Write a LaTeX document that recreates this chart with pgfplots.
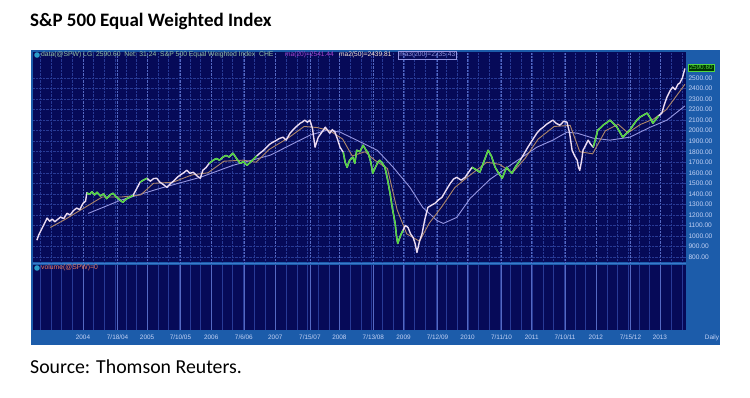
\documentclass[border=0pt]{standalone}
\usepackage{pgfplots}
\pgfplotsset{compat=1.18}
\usepackage{pgfplotstable}
\usepackage{fontspec}
\setmainfont{Carlito}
\newfontfamily\chartfont{Liberation Sans}
\definecolor{navy}{RGB}{6,10,88}
\definecolor{strip}{RGB}{28,92,170}
\definecolor{stripline}{RGB}{60,120,205}
\definecolor{gridc}{RGB}{40,58,150}
\definecolor{gridmaj}{RGB}{85,105,195}
\definecolor{pricew}{RGB}{236,220,242}
\definecolor{priceg}{RGB}{80,215,60}
\definecolor{ma50c}{RGB}{175,135,105}
\definecolor{ma200c}{RGB}{150,150,225}
\definecolor{lbl}{RGB}{195,210,245}
\definecolor{hdr}{RGB}{150,195,165}
\definecolor{hdrmag}{RGB}{170,70,210}
\definecolor{volc}{RGB}{235,125,100}

\pgfplotstableread{
x y g
2003.28 960 0
2003.31 1010 0
2003.35 1060 0
2003.40 1120 0
2003.44 1170 0
2003.48 1140 0
2003.52 1160 0
2003.56 1135 0
2003.60 1155 0
2003.65 1180 0
2003.70 1165 0
2003.75 1215 0
2003.80 1200 0
2003.85 1240 0
2003.90 1265 0
2003.95 1250 0
2004.00 1310 0
2004.04 1330 0
2004.06 1410 1
2004.10 1395 1
2004.14 1420 1
2004.18 1390 1
2004.22 1415 1
2004.27 1380 1
2004.32 1400 1
2004.37 1355 1
2004.42 1390 1
2004.47 1405 1
2004.52 1370 1
2004.57 1345 1
2004.62 1320 1
2004.67 1350 1
2004.72 1365 1
2004.78 1385 1
2004.83 1440 0
2004.89 1510 1
2004.94 1530 1
2005.00 1548 1
2005.05 1520 0
2005.10 1545 0
2005.15 1548 0
2005.20 1510 0
2005.25 1490 0
2005.31 1462 0
2005.36 1495 0
2005.41 1520 0
2005.47 1557 0
2005.52 1580 0
2005.57 1600 0
2005.62 1624 0
2005.67 1595 0
2005.72 1605 0
2005.78 1570 0
2005.83 1548 0
2005.87 1624 0
2005.92 1650 0
2005.97 1690 1
2006.03 1719 1
2006.08 1735 1
2006.13 1720 1
2006.18 1748 1
2006.23 1765 1
2006.28 1750 1
2006.34 1786 1
2006.39 1740 1
2006.45 1690 1
2006.50 1705 1
2006.56 1671 1
2006.61 1700 1
2006.66 1730 1
2006.71 1760 1
2006.76 1786 0
2006.81 1810 0
2006.86 1840 0
2006.91 1870 0
2006.96 1890 0
2007.01 1905 0
2007.06 1925 0
2007.12 1938 0
2007.17 1910 0
2007.23 1976 0
2007.28 2010 0
2007.33 2040 0
2007.39 2071 0
2007.43 2085 0
2007.46 2100 0
2007.50 2080 0
2007.54 2100 0
2007.58 2020 0
2007.62 1843 0
2007.65 1900 0
2007.67 1938 0
2007.72 1980 0
2007.78 2033 0
2007.82 2000 0
2007.85 1976 0
2007.89 2010 0
2007.93 1986 0
2007.97 1920 0
2008.01 1843 0
2008.06 1795 1
2008.09 1700 1
2008.12 1652 1
2008.16 1720 1
2008.21 1748 1
2008.24 1690 1
2008.27 1814 1
2008.32 1800 1
2008.37 1862 1
2008.41 1820 1
2008.45 1786 1
2008.49 1700 1
2008.52 1595 1
2008.56 1650 1
2008.60 1700 1
2008.63 1719 1
2008.67 1690 1
2008.71 1652 1
2008.75 1540 1
2008.79 1405 1
2008.83 1250 1
2008.87 1119 1
2008.89 1000 1
2008.91 929 1
2008.95 1000 1
2008.99 1052 1
2009.03 1100 0
2009.07 1081 0
2009.11 1020 0
2009.15 986 0
2009.18 930 0
2009.21 843 0
2009.25 950 0
2009.29 1024 0
2009.33 1150 0
2009.38 1271 0
2009.43 1290 0
2009.49 1310 0
2009.54 1340 0
2009.60 1367 0
2009.66 1430 0
2009.73 1500 0
2009.78 1540 0
2009.83 1557 0
2009.90 1530 0
2009.96 1557 0
2010.01 1600 0
2010.07 1652 1
2010.13 1630 1
2010.19 1605 1
2010.25 1700 1
2010.32 1814 1
2010.37 1760 1
2010.43 1652 1
2010.48 1600 1
2010.54 1548 1
2010.58 1610 1
2010.61 1652 1
2010.65 1620 1
2010.69 1595 1
2010.75 1660 1
2010.82 1719 1
2010.88 1780 0
2010.94 1843 0
2011.01 1910 0
2011.08 1976 0
2011.13 2010 0
2011.18 2033 0
2011.23 2060 0
2011.28 2080 0
2011.33 2100 0
2011.38 2070 0
2011.44 2052 0
2011.50 2090 0
2011.55 2081 0
2011.59 1980 0
2011.63 1814 0
2011.67 1760 0
2011.71 1719 0
2011.73 1650 0
2011.75 1624 0
2011.78 1720 0
2011.80 1814 0
2011.84 1860 0
2011.88 1910 0
2011.92 1870 0
2011.96 1843 1
2012.00 1930 1
2012.03 2005 1
2012.08 2030 1
2012.13 2060 1
2012.18 2080 1
2012.22 2100 1
2012.27 2070 1
2012.33 2033 1
2012.38 1980 1
2012.42 1938 1
2012.47 1970 1
2012.53 2005 1
2012.58 2050 1
2012.64 2100 1
2012.69 2129 1
2012.75 2150 1
2012.80 2167 1
2012.85 2120 1
2012.89 2071 1
2012.94 2110 1
2012.98 2140 1
2013.03 2167 0
2013.07 2250 0
2013.11 2319 0
2013.16 2380 0
2013.20 2414 0
2013.24 2390 0
2013.28 2440 0
2013.31 2452 0
2013.35 2500 0
2013.39 2590.6 0
}\price

\pgfplotstableread{
x y
2003.49 1081
2003.70 1150
2004.00 1260
2004.30 1370
2004.60 1370
2004.90 1390
2005.10 1500
2005.40 1510
2005.70 1580
2005.95 1600
2006.20 1710
2006.50 1720
2006.70 1700
2006.90 1820
2007.20 1930
2007.45 2040
2007.65 2030
2007.85 2000
2008.05 1920
2008.20 1760
2008.40 1800
2008.55 1720
2008.75 1640
2008.90 1250
2009.05 1020
2009.25 950
2009.40 1120
2009.60 1280
2009.80 1460
2010.00 1560
2010.30 1700
2010.50 1680
2010.70 1600
2010.90 1740
2011.10 1920
2011.35 2040
2011.60 2050
2011.75 1800
2011.95 1780
2012.15 2000
2012.35 2060
2012.50 1980
2012.70 2060
2012.90 2110
2013.10 2200
2013.39 2440
}\maA

\pgfplotstableread{
x y
2004.08 1214
2004.58 1338
2005.20 1452
2005.83 1557
2006.34 1671
2006.92 1767
2007.23 1862
2007.54 1957
2007.81 2005
2008.01 1986
2008.27 1910
2008.59 1814
2008.84 1652
2009.10 1462
2009.30 1271
2009.52 1148
2009.62 1119
2009.83 1176
2010.04 1357
2010.35 1538
2010.71 1690
2011.08 1843
2011.33 1910
2011.55 1986
2011.71 1976
2011.96 1929
2012.22 1910
2012.53 1938
2012.85 2033
2013.11 2100
2013.39 2235
}\maB

\begin{document}
\begin{tikzpicture}[x=1pt,y=1pt]
\useasboundingbox (0,0) rectangle (750,398);
\fill[white] (0,0) rectangle (750,398);
% title and source
\node[anchor=base west, inner sep=0pt, font=\bfseries\fontsize{19}{21}\selectfont] at (30,371) {S\&P 500 Equal Weighted Index};
\node[anchor=base west, inner sep=0pt, font=\fontsize{19.8}{22}\selectfont] at (30,24) {Source: Thomson Reuters.};
% frame
\fill[strip] (31,53) rectangle (720,348);
\draw[stripline, line width=1pt] (33,134.5) -- (686,134.5);

\begin{axis}[
  at={(33pt,136pt)}, anchor=south west, scale only axis,
  width=653pt, height=210pt,
  xmin=2003.22, xmax=2013.407, ymin=753, ymax=2747,
  axis background/.style={fill=navy},
  axis line style={draw=none},
  xtick={2004,2004.54,2005,2005.52,2006,2006.51,2007,2007.54,2008,2008.53,2009,2009.53,2010,2010.53,2011,2011.52,2012,2012.54,2013},
  xticklabels={},
  minor xtick={2003.3333,2003.5,...,2013.4},
  ytick={800,900,...,2500},
  yticklabel pos=right,
  yticklabels={800.00,900.00,1000.00,1100.00,1200.00,1300.00,1400.00,1500.00,1600.00,1700.00,1800.00,1900.00,2000.00,2100.00,2200.00,2300.00,2400.00,2500.00},
  yticklabel style={font=\chartfont\fontsize{6.6}{7}\selectfont, text=lbl, anchor=west, xshift=-1pt},
  major tick length=0pt, minor tick length=0pt,
  xmajorgrids, xminorgrids, ymajorgrids,
  major x grid style={gridmaj, densely dotted, line width=0.6pt},
  minor x grid style={gridc, densely dotted, line width=0.5pt},
  major y grid style={gridc, densely dotted, line width=0.5pt},
  clip=true,
]
\addplot[ma200c, line width=0.9pt] table[x=x,y=y] {\maB};
\addplot[ma50c, line width=0.9pt] table[x=x,y=y] {\maA};
\addplot[pricew, line width=1.4pt, line join=round] table[x=x,y=y] {\price};
\addplot[priceg, line width=1.4pt, line join=round, unbounded coords=jump,
  restrict expr to domain={\thisrow{g}}{0.5:1.5}] table[x=x,y=y] {\price};
\end{axis}

\begin{axis}[
  at={(33pt,68pt)}, anchor=south west, scale only axis,
  width=653pt, height=65pt,
  xmin=2003.22, xmax=2013.407, ymin=0, ymax=1,
  axis background/.style={fill=navy},
  axis line style={draw=none},
  xtick={2004,2004.54,2005,2005.52,2006,2006.51,2007,2007.54,2008,2008.53,2009,2009.53,2010,2010.53,2011,2011.52,2012,2012.54,2013},
  xticklabels={2004,7/18/04,2005,7/10/05,2006,7/6/06,2007,7/15/07,2008,7/13/08,2009,7/12/09,2010,7/11/10,2011,7/10/11,2012,7/15/12,2013},
  xticklabel style={font=\chartfont\fontsize{6.4}{7}\selectfont, text=lbl, yshift=-1.5pt},
  minor xtick={2003.3333,2003.5,...,2013.4},
  ytick=\empty,
  major tick length=0pt, minor tick length=0pt,
  xmajorgrids, xminorgrids,
  major x grid style={gridmaj, line width=0.6pt},
  minor x grid style={gridc, line width=0.5pt},
]
\addplot[draw=none] coordinates {(2004,0)};
\end{axis}

% header texts
\fill[cyan!60!teal] (37,343) circle (2.8);
\node[anchor=west, inner sep=0pt, text=hdr, font=\chartfont\fontsize{6.8}{8}\selectfont] at (41,343) {data(@SPW) LG: 2590.60 \ Net: 31.24 \ S\&P 500 Equal Weighted Index \ CHE};
\node[anchor=west, inner sep=0pt, text=hdrmag, font=\chartfont\fontsize{6.6}{8}\selectfont] at (285,343) {ma(20)=2541.44};
\node[anchor=west, inner sep=0pt, text=white!85!orange, font=\chartfont\fontsize{6.6}{8}\selectfont] at (339,343) {ma2(50)=2439.81};
\node[anchor=west, draw=ma200c, line width=0.5pt, inner sep=1pt, text=ma200c, font=\chartfont\fontsize{6.6}{8}\selectfont] at (398,343) {ma3(200)=2235.43};
% value box
\node[anchor=west, fill=black!80!green, draw=priceg, line width=0.6pt, inner sep=1.2pt, text=priceg, font=\chartfont\fontsize{6.4}{7}\selectfont] at (688,330.5) {2590.60};
% volume header
\fill[cyan!60!teal] (37,130) circle (2.8);
\node[anchor=west, inner sep=0pt, text=volc, font=\chartfont\fontsize{6.8}{8}\selectfont] at (41,130) {volume(@SPW)=0};
\node[anchor=center, inner sep=0pt, text=lbl, font=\chartfont\fontsize{6.4}{7}\selectfont] at (712,60) {Daily};
\end{tikzpicture}
\end{document}
